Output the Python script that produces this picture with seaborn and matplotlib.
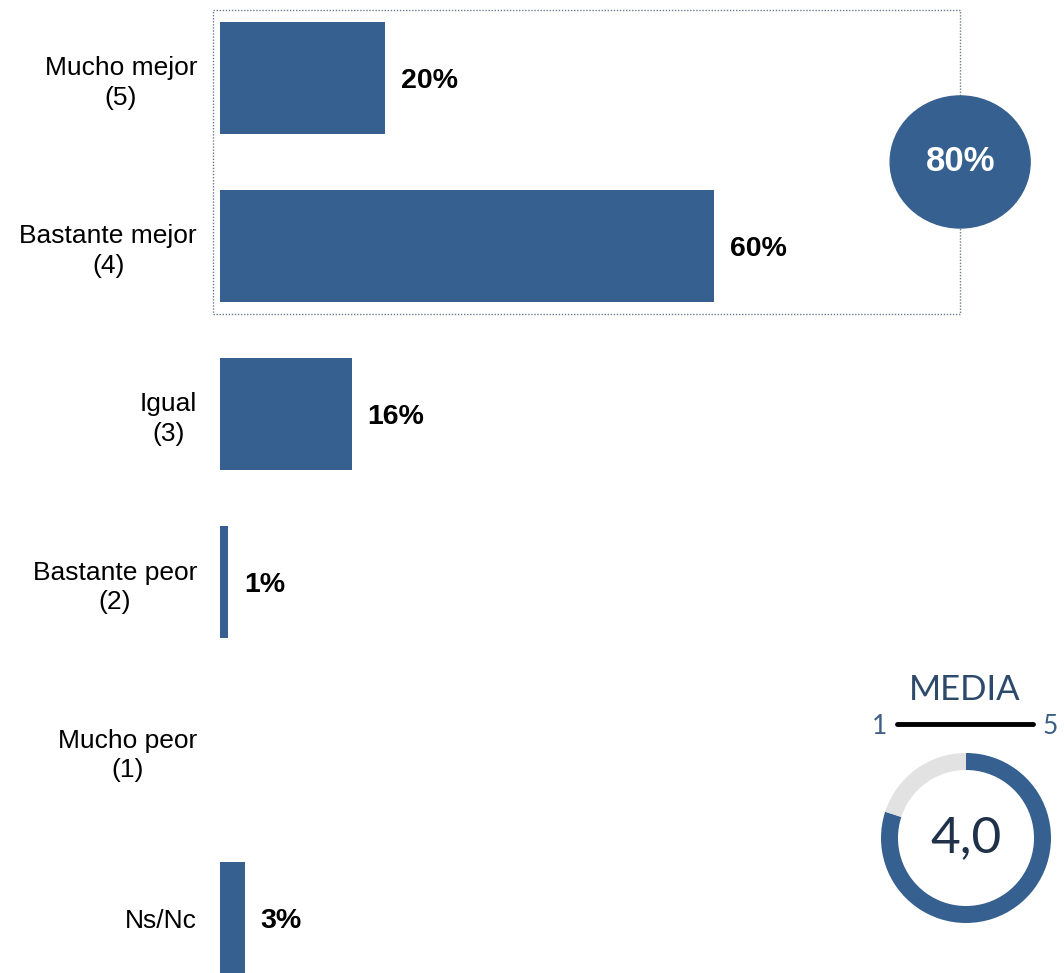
import numpy as np
import pandas as pd
import matplotlib
matplotlib.use("Agg")
import matplotlib.pyplot as plt
from matplotlib.patches import Rectangle, Ellipse
import seaborn as sns

# Datos
categorias = ["Mucho mejor\n(5)", "Bastante mejor\n(4)", "Igual\n(3)",
              "Bastante peor\n(2)", "Mucho peor\n(1)", "Ns/Nc"]
valores = [20, 60, 16, 1, 0, 3]
media = 4.0
escala_min, escala_max = 1, 5

azul = "#36608f"
gris = "#e2e2e2"
navy = "#1f3249"

sns.set_theme(style="white")
plt.rcParams["font.family"] = ["Liberation Sans", "DejaVu Sans"]

W, H = 1064, 973
fig = plt.figure(figsize=(W / 100, H / 100), dpi=100)
ax = fig.add_axes([220 / W, 0, 1 - 220 / W, 1])

df = pd.DataFrame({"cat": categorias, "val": valores})
sns.barplot(data=df, x="val", y="cat", orient="h", color=azul,
            width=0.667, saturation=1, ax=ax, edgecolor="none")

ax.set_xlim(0, (W - 220) / 8.233)
ax.set_ylim(5.327, -0.464)
sns.despine(ax=ax, left=True, bottom=True)
ax.set_xticks([])
ax.set_xlabel("")
ax.set_ylabel("")
ax.tick_params(axis="y", length=0, pad=16.5)
ax.set_yticks(range(len(categorias)))
ax.set_yticklabels(categorias, fontsize=19, ma="center", linespacing=1.3,
                   color="black")

# etiquetas de valor
for i, v in enumerate(valores):
    if v > 0:
        ax.annotate(f"{v}%", xy=(v, i), xytext=(11.5, -2),
                    textcoords="offset points", va="center", ha="left",
                    fontsize=20.5, fontweight="bold", color="black")

# caja punteada de mejor (5+4)
ax.add_patch(Rectangle((-0.85, -0.404), 90.75, 1.81, fill=False,
                       ls=(0, (1, 1.2)), lw=1, ec="#6d7b8e", clip_on=False))
total_mejor = valores[0] + valores[1]
ax.add_patch(Ellipse((89.9, 0.5), 17.0, 0.786, color=azul, clip_on=False,
                     zorder=5))
ax.text(89.9, 0.5, f"{total_mejor}%", ha="center", va="center",
        fontsize=25, fontweight="bold", color="white", zorder=6)

# bloque MEDIA
fuente = ["Lato", "DejaVu Sans"]
fig.text(965 / W, 1 - 690 / H, "MEDIA", ha="center", va="center",
         fontsize=25, color="#2d4a6b", family=fuente)
fig.add_artist(plt.Line2D([897 / W, 1033 / W], [1 - 724 / H, 1 - 724 / H],
                          color="black", lw=3.5))
fig.text(880 / W, 1 - 726 / H, str(escala_min), ha="center", va="center",
         fontsize=19, color="#3d5f86", family=fuente)
fig.text(1050 / W, 1 - 726 / H, str(escala_max), ha="center", va="center",
         fontsize=19, color="#3d5f86", family=fuente)

# donut
r = 85
ax2 = fig.add_axes([(966 - r) / W, 1 - (838 + r) / H, 2 * r / W, 2 * r / H])
ax2.pie([media, escala_max - media], colors=[azul, gris], startangle=90,
        counterclock=False, radius=1, wedgeprops=dict(width=17 / r, linewidth=0))
ax2.set_xlim(-1, 1)
ax2.set_ylim(-1, 1)
ax2.set_aspect("equal")
ax2.text(0, 0, f"{media:.1f}".replace(".", ","), ha="center", va="center",
         fontsize=37, color=navy, family=fuente)

fig.savefig("out.png", dpi=100)
